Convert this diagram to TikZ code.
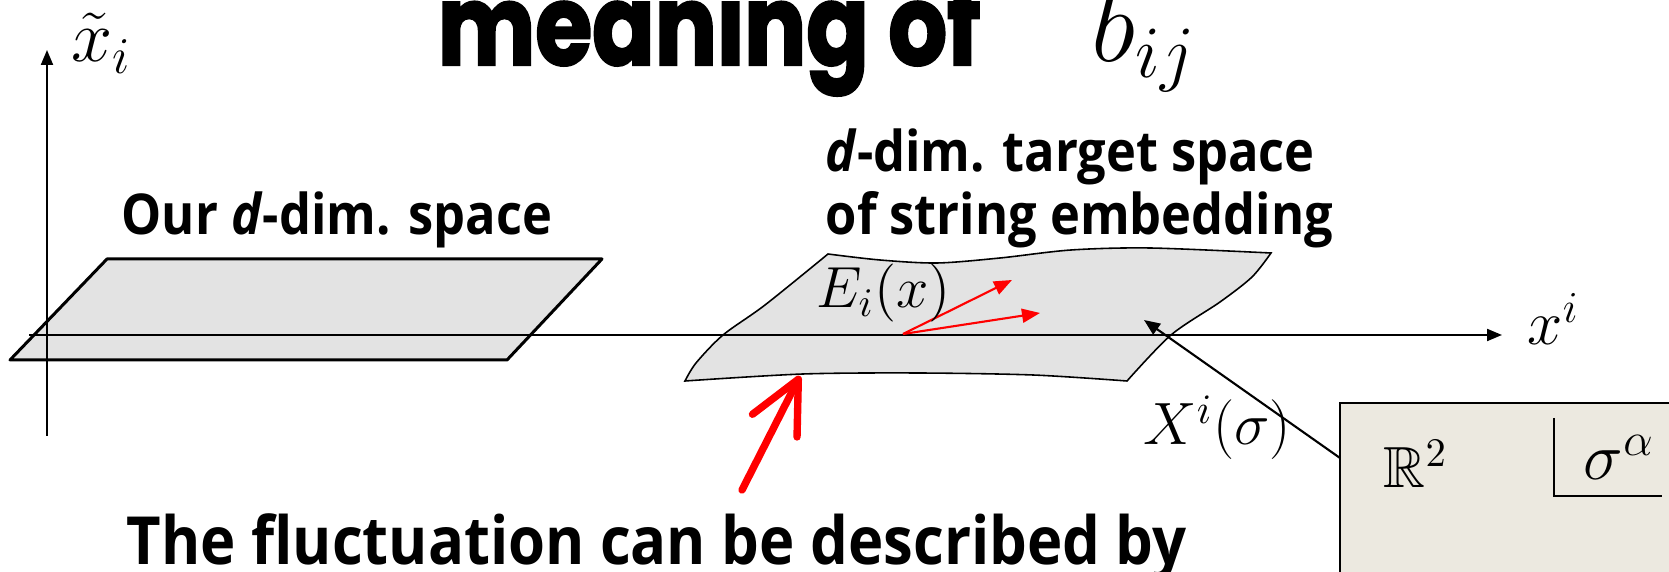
\RequirePackage{fix-cm}
\documentclass[tikz,border=0pt]{standalone}
\usepackage{amsmath,amssymb}
\usepackage{fontspec}
\usepackage{tikz}
\usetikzlibrary{arrows.meta}
\newfontfamily\lblfont{Open Sans}[FakeStretch=0.9]
\newfontfamily\titlefont{Poppins}[FakeStretch=0.82,BoldFeatures={FakeBold=2}]
\newcommand{\fsz}[1]{\fontsize{#1}{#1}\selectfont}
\definecolor{sheetgray}{HTML}{E3E3E3}
\definecolor{boxbeige}{HTML}{ECE9E0}
\tikzset{
  axisln/.style={-{Triangle[length=1.5mm,width=1.2mm]},line width=0.6pt},
  flatsp/.style={fill=sheetgray,draw=black,line width=0.85pt,line join=round},
  sheet/.style={fill=sheetgray,draw=black,line width=0.45pt},
  evec/.style={-{Triangle[length=1.8mm,width=1.4mm]},red,line width=0.6pt},
  maparr/.style={-{Triangle[length=1.6mm,width=1.3mm]},line width=0.6pt},
  bigarr/.style={-{Straight Barb[length=5.2mm,width=5mm,round]},red,line width=2.1pt,line cap=round},
  planebox/.style={fill=boxbeige,draw=black,line width=0.4pt},
  txtlbl/.style={inner sep=0pt,anchor=base west},
  boldlbl/.style={txtlbl,font=\lblfont\bfseries\fsz{16pt}},
}

\begin{document}
\begin{tikzpicture}[x=0.1mm,y=-0.1mm]
  \useasboundingbox (0,0) rectangle (1669,572);
  \clip (0,0) rectangle (1669,572);
  % flat space
  \draw[flatsp] (107,259) -- (602,259) -- (507,360) -- (10,360) -- cycle;
  % wavy target space
  \draw[sheet] plot[smooth] coordinates {(828,254) (880,260) (937,263) (1000,258) (1071,250) (1150,248) (1271,253)}
    -- plot[smooth] coordinates {(1271,253) (1252,277) (1220,302) (1171,335) (1127,381)}
    -- plot[smooth] coordinates {(1127,381) (1033,375) (918,373) (803,374) (685,381)}
    -- plot[smooth] coordinates {(685,381) (696,363) (723,335) (765,305) (828,254)}
    -- cycle;
  % axes
  \coordinate (yb) at (47,436);
  \coordinate (yt) at (47,50);
  \coordinate (xl) at (29,335);
  \coordinate (xr) at (1502,335);
  \draw[axisln] (yb) -- (yt);
  \draw[axisln] (xl) -- (xr);
  \node[txtlbl,font=\fsz{21pt}] (xtl) at (71,62) {$\tilde{x}_i$};
  \node[txtlbl,font=\fsz{18pt}] (xil) at (1527,345) {$x^i$};
  % title
  \node[txtlbl,font=\titlefont\bfseries\fsz{32pt}] (ttl) at (437,65) {meaning of};
  \node[txtlbl,font=\fsz{30pt}] (bij) at (1091,62) {$b_{ij}$};
  \node[boldlbl] (ours) at (121,235) {Our \textit{d}-dim. space};
  \node[boldlbl] (tgtA) at (825,172) {\textit{d}-dim. target space};
  \node[boldlbl] (tgtB) at (825,235) {of string embedding};
  % local frame
  \coordinate (vo) at (903,334);
  \coordinate (va) at (1012,280);
  \coordinate (vb) at (1040,313);
  \draw[evec] (vo) -- (va);
  \draw[evec] (vo) -- (vb);
  \node[txtlbl,font=\fsz{16.5pt}] (Ei) at (816,308) {$E_i(x)$};
  % worldsheet box
  \draw[planebox] (1340,403) rectangle (1720,620);
  \coordinate (pin) at (1340,458);
  \coordinate (hit) at (1144,320);
  \draw[maparr] (pin) -- (hit);
  \node[txtlbl,font=\fsz{17pt}] (Xs) at (1143,445) {$X^i(\sigma)$};
  \node[txtlbl,font=\fsz{16.5pt}] (R2) at (1383,488) {$\mathbb{R}^2$};
  \node[txtlbl,font=\fsz{19pt}] (sig) at (1583,480) {$\sigma^\alpha$};
  \draw[line width=0.5pt] (1554,418) -- (1554,496) -- (1662,496);
  % fluctuation
  \coordinate (fa) at (742,490);
  \coordinate (fb) at (800,376);
  \draw[bigarr] (fa) -- (fb);
  \node[txtlbl,font=\lblfont\bfseries\fsz{18.9pt}] (fluc) at (126,565) {The fluctuation can be described by};
\end{tikzpicture}
\end{document}
